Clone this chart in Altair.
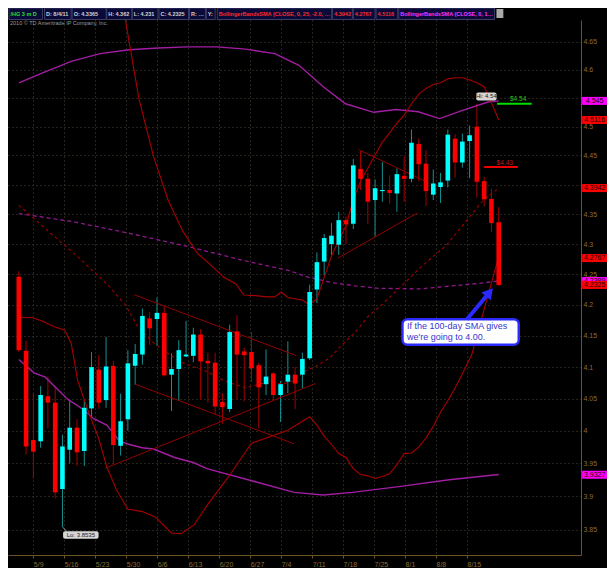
import altair as alt
import pandas as pd

# ---------------- data ----------------
opens = [4.246, 4.126, 3.986, 3.984, 4.054, 4.044, 3.911, 3.971, 4.005, 3.969,
         4.035, 4.096, 4.048, 4.102, 3.977, 4.018, 4.102, 4.120, 4.178, 4.177,
         4.187, 4.088, 4.097, 4.117, 4.118, 4.152, 4.110, 4.107, 4.045, 4.034,
         4.157, 4.125, 4.124, 4.103, 4.073, 4.090, 4.056, 4.077, 4.088, 4.088,
         4.114, 4.225, 4.271, 4.300, 4.299, 4.340, 4.334, 4.427, 4.410, 4.374,
         4.389, 4.391, 4.385, 4.415, 4.410, 4.470, 4.436, 4.383, 4.396, 4.407,
         4.479, 4.438, 4.475, 4.500, 4.406, 4.376, 4.3365]
highs = [4.255, 4.142, 4.059, 4.070, 4.085, 4.070, 3.994, 4.048, 4.018, 4.048,
         4.124, 4.119, 4.148, 4.110, 4.058, 4.127, 4.137, 4.194, 4.188, 4.212,
         4.198, 4.122, 4.143, 4.174, 4.163, 4.161, 4.123, 4.123, 4.059, 4.168,
         4.183, 4.131, 4.156, 4.107, 4.128, 4.092, 4.078, 4.141, 4.100, 4.123,
         4.233, 4.286, 4.317, 4.335, 4.354, 4.346, 4.444, 4.458, 4.420, 4.409,
         4.439, 4.416, 4.428, 4.448, 4.495, 4.480, 4.459, 4.426, 4.420, 4.495,
         4.487, 4.488, 4.502, 4.540, 4.413, 4.393, 4.362]
lows = [4.124, 3.964, 3.927, 3.974, 4.004, 3.897, 3.8535, 3.950, 3.946, 3.946,
        4.023, 4.034, 4.036, 3.949, 3.962, 4.000, 4.072, 4.104, 4.135, 4.134,
        4.085, 4.031, 4.047, 4.116, 4.108, 4.049, 4.044, 4.026, 4.011, 4.029,
        4.049, 4.046, 4.077, 4.004, 4.056, 4.046, 4.014, 4.059, 4.034, 4.067,
        4.111, 4.203, 4.248, 4.281, 4.282, 4.300, 4.325, 4.391, 4.333, 4.313,
        4.371, 4.368, 4.354, 4.371, 4.404, 4.406, 4.364, 4.374, 4.369, 4.395,
        4.412, 4.429, 4.411, 4.378, 4.363, 4.320, 4.231]
closes = [4.127, 3.976, 3.968, 4.056, 4.044, 3.906, 3.976, 4.005, 3.967, 4.036,
          4.100, 4.044, 4.101, 3.978, 4.015, 4.106, 4.121, 4.182, 4.162, 4.187,
          4.087, 4.097, 4.127, 4.120, 4.152, 4.109, 4.106, 4.038, 4.037, 4.156,
          4.120, 4.119, 4.098, 4.068, 4.085, 4.056, 4.073, 4.088, 4.074, 4.113,
          4.221, 4.270, 4.310, 4.314, 4.340, 4.333, 4.433, 4.410, 4.371, 4.394,
          4.391, 4.386, 4.418, 4.410, 4.472, 4.435, 4.389, 4.402, 4.404, 4.486,
          4.438, 4.474, 4.485, 4.405, 4.375, 4.335, 4.2325]

# Bollinger bands (25) - dark red
bb25_upper_x = [14.13, 14.93, 16.53, 18.53, 20.53, 22.53, 24.53, 26.53, 28.2, 29.87,
                30.93, 32.53, 34.1, 35.2, 36.1, 37.0, 39, 40, 41, 42, 43, 44, 45, 46,
                47, 48, 49, 50, 51, 52, 53, 54, 55, 56, 57, 58, 59, 60, 61, 62, 63,
                64, 65, 66]
bb25_upper = [4.730, 4.669, 4.548, 4.448, 4.374, 4.322, 4.285, 4.264, 4.245, 4.234,
              4.216, 4.215, 4.213, 4.213, 4.221, 4.212, 4.208, 4.200, 4.210, 4.245,
              4.280, 4.306, 4.331, 4.374, 4.406, 4.428, 4.451, 4.473, 4.489, 4.506,
              4.520, 4.540, 4.557, 4.567, 4.574, 4.577, 4.584, 4.586, 4.586, 4.582,
              4.577, 4.570, 4.542, 4.512]
bb25_mid_x = [0, 4, 8.3, 12.53, 14.76, 16.3, 18.3, 20.1, 22.3, 25.87, 28.1, 31.2, 33.4,
              36.5, 37.9, 39.4, 41.0, 42.8, 44.5, 46.3, 48.1, 49.9, 52.5, 55.2, 58.8,
              61.9, 63.9, 66]
bb25_mid = [4.365, 4.322, 4.277, 4.229, 4.198, 4.166, 4.141, 4.125, 4.108, 4.093,
            4.079, 4.067, 4.074, 4.074, 4.079, 4.094, 4.102, 4.115, 4.136, 4.156,
            4.182, 4.200, 4.229, 4.261, 4.298, 4.344, 4.374, 4.394]
bb25_lower_x = [0, 1.87, 3.2, 4.97, 6.31, 7.2, 8.09, 9.43, 10.97, 12.09, 13.43, 14.97,
                16.97, 18.76, 20.97, 22.31, 24.09, 25.87, 29, 32, 37, 40, 41, 42, 43,
                44, 45, 46, 47, 48, 49, 50, 51, 52, 53, 54, 55, 56, 57, 58, 59, 60,
                61, 62.3, 63, 64, 65, 65.64, 66]
bb25_lower = [4.180, 4.179, 4.174, 4.164, 4.159, 4.138, 4.079, 4.034, 3.989, 3.945,
              3.910, 3.881, 3.877, 3.869, 3.845, 3.844, 3.857, 3.886, 3.932, 3.981,
              4.001, 4.022, 4.009, 3.992, 3.979, 3.965, 3.959, 3.942, 3.933, 3.931,
              3.927, 3.930, 3.934, 3.948, 3.965, 3.966, 3.975, 3.989, 4.007, 4.029,
              4.047, 4.067, 4.089, 4.120, 4.150, 4.193, 4.236, 4.264, 4.277]

# Bollinger bands (100) - purple
bb100_upper_x = [0, 3.2, 7.2, 11.2, 15.2, 19.2, 23.2, 27.2, 31.2, 35.2, 38.53, 41.87,
                 44.93, 48.8, 51.87, 54.93, 57.87, 60.93, 64.53, 66]
bb100_upper = [4.577, 4.594, 4.615, 4.629, 4.636, 4.639, 4.641, 4.641, 4.637, 4.629,
               4.608, 4.570, 4.540, 4.525, 4.530, 4.526, 4.514, 4.528, 4.543, 4.545]
bb100_mid_x = [0, 7.2, 15.2, 23.2, 31.2, 37.2, 39.87, 43.2, 46.27, 49.47, 55.2, 58.76,
               63.2, 66]
bb100_mid = [4.351, 4.338, 4.318, 4.296, 4.272, 4.256, 4.245, 4.236, 4.231, 4.227,
             4.226, 4.230, 4.235, 4.239]
bb100_lower_x = [0, 2.09, 3.64, 4.97, 6.76, 8.76, 10.31, 12.09, 13.87, 15.2, 16.97,
                 18.53, 21.43, 24.09, 25.87, 32.53, 37.87, 41.87, 45.87, 52.53, 59.2, 66]
bb100_lower = [4.112, 4.091, 4.084, 4.069, 4.049, 4.034, 4.019, 4.009, 3.984, 3.979,
               3.974, 3.972, 3.959, 3.951, 3.942, 3.922, 3.906, 3.902, 3.906, 3.915,
               3.925, 3.933]

# drawn trend lines
tl_x0 = [15.87, 16.09, 11.87, 46.76, 43.87]
tl_p0 = [4.2164, 4.0726, 3.9425, 4.4597, 4.2767]
tl_x1 = [38.13, 37.87, 40.8, 55.87, 54.76]
tl_p1 = [4.1184, 3.9800, 4.0741, 4.4062, 4.3518]

date_labels = ["5/9", "5/16", "5/23", "5/30", "6/6", "6/13", "6/20", "6/27", "7/4",
               "7/11", "7/18", "7/25", "8/1", "8/8", "8/15"]
price_ticks = [3.85, 3.9, 3.95, 4.0, 4.05, 4.1, 4.15, 4.2, 4.25, 4.3, 4.35, 4.4,
               4.45, 4.5, 4.55, 4.6, 4.65]
hidden_ticks = [4.55, 4.4]   # tick labels covered by value tags in the reference

tag_values = [4.545, 4.5116, 4.3942, 4.2767, 4.2389, 4.2325, 3.9327]
tag_labels = ["4.545", "4.5116", "4.3942", "4.2767", "4.2389", "4.2325", "3.9327"]
tag_colors = ["#ff00ff", "#ff0000", "#ff0000", "#ff0000", "#ff00ff", "#ff0000", "#ff00ff"]

header_cells = [
    ("/HG 3 m D", 1, 35, "#33dd33"),
    ("D: 8/4/11", 37, 64, "#d0d0d0"),
    ("O: 4.3365", 65, 99.5, "#d0d0d0"),
    ("H: 4.362", 100, 125.5, "#d0d0d0"),
    ("L: 4.231", 126, 152, "#d0d0d0"),
    ("C: 4.2325", 153, 183, "#d0d0d0"),
    ("R: 0.131", 184, 200, "#d0d0d0"),
    ("Y:", 201, 210, "#d0d0d0"),
    ("BollingerBandsSMA (CLOSE, 0, 25, -2.0, 2.0)", 212, 328, "#ff2a2a"),
    ("4.3942", 329, 349, "#ff2a2a"),
    ("4.2767", 350, 372, "#ff2a2a"),
    ("4.5116", 373, 395, "#ff2a2a"),
    ("BollingerBandsSMA (CLOSE, 0, 100, -2.0, 2.0)", 396, 493, "#ff33ff"),
]

# ---------------- layout ----------------
W, H = 573, 535
SX = W / 580.7
xs = alt.Scale(domain=[-0.8, 76.63], nice=False, zero=False)
ys = alt.Scale(type="log", domain=[3.8124, 4.6896], nice=False, zero=False)
AX_COL = "#6b5326"
LAB_COL = "#8c6d35"
GRID_COL = "#4a4638"

date_pos = [2.0 + 4.26 * k for k in range(len(date_labels))]
lab_arr = "[" + ",".join("'%s'" % d for d in date_labels) + "]"
hide_expr = " || ".join("abs(datum.value - %s) < 0.001" % h for h in hidden_ticks)
XA = alt.Axis(values=date_pos, labelExpr=lab_arr + "[round((datum.value-2.0)/4.26)]",
              grid=True, gridDash=[1, 3], gridColor=GRID_COL, domainColor=AX_COL,
              tickColor=AX_COL, tickSize=3, labelAlign="left", labelPadding=2,
              labelColor=LAB_COL, labelFontSize=7, labelFont="Liberation Sans",
              title=None, labelFlush=False, labelOverlap=False)
YA = alt.Axis(orient="right", values=price_ticks,
              labelExpr="(" + hide_expr + ") ? '' : format(datum.value, '~g')",
              grid=True, gridDash=[1, 3], gridColor=GRID_COL, domainColor=AX_COL,
              ticks=False, labelPadding=2, labelColor=LAB_COL, labelFontSize=7,
              labelFont="Liberation Sans", title=None, labelFlush=False,
              labelOverlap=False)


def X(f):
    return alt.X(f, scale=xs, axis=XA)


def Y(f):
    return alt.Y(f, scale=ys, axis=YA)


cdf = pd.DataFrame({"i": list(range(len(opens))), "o": opens, "h": highs, "l": lows, "c": closes})
cdf["body"] = ["#00ffff" if c >= o else "#ff0000" for o, c in zip(cdf.o, cdf.c)]
cdf["wick"] = ["#168f8f" if c >= o else "#a40000" for o, c in zip(cdf.o, cdf.c)]

layers = []
layers.append(alt.Chart(cdf).mark_rule(strokeWidth=1).encode(
    x=X("i:Q"), y=Y("l:Q"), y2="h:Q", color=alt.Color("wick:N", scale=None)))


def band(xv, pv, color, dash=None, width=1.0):
    df = pd.DataFrame({"i": xv, "p": pv})
    kw = dict(color=color, strokeWidth=width, clip=True)
    if dash:
        kw["strokeDash"] = dash
    return alt.Chart(df).mark_line(**kw).encode(x=X("i:Q"), y=Y("p:Q"))


layers += [
    band(bb100_upper_x, bb100_upper, "#a21ea2", None, 1.4),
    band(bb100_mid_x, bb100_mid, "#8e188e", [4, 3], 1.3),
    band(bb100_lower_x, bb100_lower, "#a21ea2", None, 1.4),
    band(bb25_upper_x, bb25_upper, "#a80000", None, 1.1),
    band(bb25_mid_x, bb25_mid, "#a00000", [3, 3], 1.1),
    band(bb25_lower_x, bb25_lower, "#a80000", None, 1.1),
]

tl = pd.DataFrame({"x0": tl_x0, "p0": tl_p0, "x1": tl_x1, "p1": tl_p1})
layers.append(alt.Chart(tl).mark_rule(color="#920000", strokeWidth=1).encode(
    x=X("x0:Q"), x2="x1:Q", y=Y("p0:Q"), y2="p1:Q"))

layers.append(alt.Chart(cdf).mark_bar(size=4.6).encode(
    x=X("i:Q"), y=Y("o:Q"), y2="c:Q", color=alt.Color("body:N", scale=None)))

# price lines and labels
pl = pd.DataFrame({"x0": [64.0, 65.77], "x1": [68.63, 70.53], "p": [4.43, 4.54],
                   "col": ["#ee0000", "#00dd00"]})
layers.append(alt.Chart(pl).mark_rule(strokeWidth=2).encode(
    x=X("x0:Q"), x2="x1:Q", y=Y("p:Q"), color=alt.Color("col:N", scale=None)))
plt_ = pd.DataFrame({"x": [66.83, 68.67], "p": [4.4373, 4.5483], "t": ["$4.43", "$4.54"],
                     "col": ["#c01818", "#22cc22"]})
layers.append(alt.Chart(plt_).mark_text(fontSize=6.5, font="Liberation Sans",
                                         baseline="middle").encode(
    x=X("x:Q"), y=Y("p:Q"), text="t:N", color=alt.Color("col:N", scale=None)))

# Hi / Lo labels
hl = pd.DataFrame({"x0": [62.9, 6.09], "x1": [65.7, 10.97], "p0": [4.5600, 3.8477],
                   "p1": [4.5458, 3.8366], "xc": [64.3, 8.53], "pc": [4.5528, 3.8421],
                   "t": ["Hi: 4.54", "Lo: 3.8535"]})
layers.append(alt.Chart(pd.DataFrame({"x0": [6.04], "x1": [6.6], "p0": [3.8535], "p1": [3.8477]}))
              .mark_rule(color="#9a9a9a", strokeWidth=1).encode(
    x=X("x0:Q"), x2="x1:Q", y=Y("p0:Q"), y2="p1:Q"))
layers.append(alt.Chart(hl).mark_rect(color="#d6d6d6", cornerRadius=2).encode(
    x=X("x0:Q"), x2="x1:Q", y=Y("p0:Q"), y2="p1:Q"))
layers.append(alt.Chart(hl).mark_text(fontSize=6, font="Liberation Sans", color="#202020",
                                      baseline="middle").encode(
    x=X("xc:Q"), y=Y("pc:Q"), text="t:N"))

# annotation box + arrow
ab = pd.DataFrame({"x0": [52.76], "x1": [68.76], "p0": [4.1768], "p1": [4.1355]})
layers.append(alt.Chart(ab).mark_rect(fill="#ffffff", stroke="#2b2bff", strokeWidth=2.5,
                                      cornerRadius=5).encode(
    x=X("x0:Q"), x2="x1:Q", y=Y("p0:Q"), y2="p1:Q"))
at = pd.DataFrame({"x": [53.4, 53.4], "p": [4.1653, 4.1473],
                   "t": ["If the 100-day SMA gives", "we're going to 4.00."]})
layers.append(alt.Chart(at).mark_text(fontSize=9, font="Liberation Sans", color="#3636cc",
                                      align="left", baseline="middle").encode(
    x=X("x:Q"), y=Y("p:Q"), text="t:N"))
ar = pd.DataFrame({"x0": [61.64], "x1": [64.4], "p0": [4.1768], "p1": [4.2157]})
layers.append(alt.Chart(ar).mark_rule(color="#2a2aff", strokeWidth=4).encode(
    x=X("x0:Q"), x2="x1:Q", y=Y("p0:Q"), y2="p1:Q"))
layers.append(alt.Chart(pd.DataFrame({"x": [64.73], "p": [4.2204]})).mark_point(
    shape="triangle-up", filled=True, size=150, angle=40, color="#2a2aff", opacity=1).encode(
    x=X("x:Q"), y=Y("p:Q")))

# value tags on the right axis
for v, lab, col in zip(tag_values, tag_labels, tag_colors):
    d = pd.DataFrame({"v": [v], "t": [lab]})
    layers.append(alt.Chart(d).mark_tick(orient="horizontal", thickness=8, size=25,
                                         color=col, opacity=1).encode(
        x=alt.value(586.6), y=Y("v:Q")))
    layers.append(alt.Chart(d).mark_text(fontSize=7, font="Liberation Sans", color="#1a0000",
                                         baseline="middle").encode(
        x=alt.value(586.6), y=Y("v:Q"), text="t:N"))

# header bar
one = pd.DataFrame({"d": [0]})
for lab, x0, x1, col in header_cells:
    layers.append(alt.Chart(one).mark_rect(fill="#0a0a38", stroke="#4a4a7a",
                                           strokeWidth=0.8).encode(
        x=alt.value(x0 * SX), x2=alt.value(x1 * SX), y=alt.value(-12), y2=alt.value(-0.5)))
    layers.append(alt.Chart(one).mark_text(text=lab, fontSize=5.5, font="Liberation Sans",
                                           fontWeight="bold", color=col, align="left",
                                           baseline="middle",
                                           limit=(x1 - x0) * SX - 2).encode(
        x=alt.value(x0 * SX + 1.5), y=alt.value(-6)))
layers.append(alt.Chart(one).mark_rect(fill="#a8a8a8").encode(
    x=alt.value(495 * SX), x2=alt.value(502 * SX), y=alt.value(-11), y2=alt.value(-2)))
layers.append(alt.Chart(one).mark_text(text="2010 \u00a9 TD Ameritrade IP Company, Inc.",
                                       fontSize=5.5, font="Liberation Sans", color="#9a9a9a",
                                       align="left", baseline="middle").encode(
    x=alt.value(2), y=alt.value(3)))

chart = alt.layer(*layers).properties(
    width=W, height=H,
    padding={"left": 0, "top": 12, "right": 26, "bottom": 13},
    autosize=alt.AutoSizeParams(type="none"),
    background="#000000",
).configure_view(strokeWidth=0)

chart.save("out.html", embed_options={"renderer": "svg", "actions": False})
